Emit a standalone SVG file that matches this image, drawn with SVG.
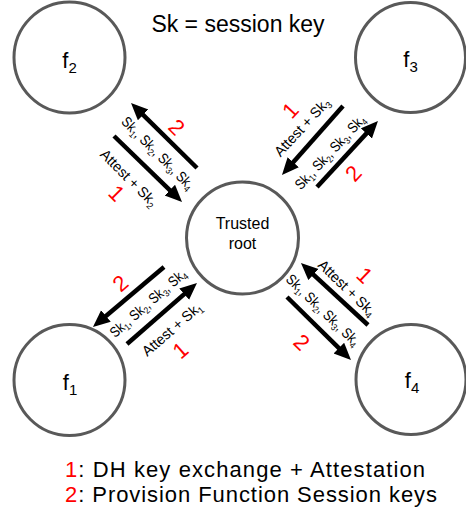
<svg xmlns="http://www.w3.org/2000/svg" width="466" height="520" viewBox="0 0 466 520">
<style>
text{font-family:"Liberation Sans",Arial,sans-serif;fill:#000}
.node{fill:#fff;stroke:#595959;stroke-width:3}
.nl{font-size:22px;text-anchor:middle}
.nsub{font-size:15px}
.rl{font-size:16px;text-anchor:middle}
.arr{stroke:#000;stroke-width:4.5;fill:none;marker-end:url(#ah)}
.lbl{font-size:14.5px;text-anchor:middle}
.sub{font-size:9.5px}
.num{font-size:22px;fill:#ff0000;text-anchor:middle}
.red{fill:#ff0000}
.title{font-size:23px;text-anchor:middle}
.leg{font-size:22px}
</style>
<defs>
<marker id="ah" markerUnits="userSpaceOnUse" markerWidth="18" markerHeight="16" refX="10" refY="7.5" orient="auto">
<path d="M0,0 L17,7.5 L0,15 z" fill="#000"/>
</marker>
</defs>
<rect width="466" height="520" fill="#fff"/>
<text class="title" x="238" y="31.5">Sk = session key</text>
<g id="node-f2"><circle class="node" cx="69.5" cy="57.5" r="55.5"/><text class="nl" x="69.5" y="68">f<tspan class="nsub" dy="5">2</tspan></text></g>
<g id="node-f3"><circle class="node" cx="410.5" cy="57.5" r="55"/><text class="nl" x="410.5" y="67">f<tspan class="nsub" dy="5">3</tspan></text></g>
<g id="node-f1"><circle class="node" cx="69.5" cy="380" r="55.5"/><text class="nl" x="70" y="390">f<tspan class="nsub" dy="5">1</tspan></text></g>
<g id="node-f4"><circle class="node" cx="411" cy="379.5" r="55"/><text class="nl" x="412" y="388">f<tspan class="nsub" dy="5">4</tspan></text></g>
<g id="node-root"><circle class="node" cx="242.5" cy="238" r="56"/><text class="rl" x="242.5" y="229">Trusted</text><text class="rl" x="242.5" y="249">root</text></g>
<g id="connectors">
<line class="arr" x1="197" y1="168" x2="136" y2="107.9"/>
<line class="arr" x1="114" y1="136" x2="177" y2="197.1"/>
<line class="arr" x1="343" y1="106" x2="286.6" y2="169.8"/>
<line class="arr" x1="317" y1="187" x2="373.2" y2="126.1"/>
<line class="arr" x1="164" y1="267" x2="98.3" y2="322.5"/>
<line class="arr" x1="127" y1="344" x2="191.7" y2="287.6"/>
<line class="arr" x1="368" y1="325" x2="306.1" y2="267.8"/>
<line class="arr" x1="287" y1="297" x2="346" y2="355.1"/>
</g>
<g id="labels">
<!-- upper-left -->
<text class="lbl" transform="translate(158,153) rotate(45)" y="5" textLength="96" lengthAdjust="spacingAndGlyphs">Sk<tspan class="sub" dy="3">1</tspan><tspan dy="-3">, Sk</tspan><tspan class="sub" dy="3">2</tspan><tspan dy="-3">, Sk</tspan><tspan class="sub" dy="3">3</tspan><tspan dy="-3">, Sk</tspan><tspan class="sub" dy="3">4</tspan></text>
<text class="lbl" transform="translate(129,178) rotate(45)" y="5" textLength="74" lengthAdjust="spacingAndGlyphs">Attest + Sk<tspan class="sub" dy="3">2</tspan></text>
<text class="num" transform="translate(177,127) rotate(45)" y="8">2</text>
<text class="num" transform="translate(117,193) rotate(45)" y="8">1</text>
<!-- upper-right -->
<text class="lbl" transform="translate(302,127) rotate(-47)" y="5" textLength="74" lengthAdjust="spacingAndGlyphs">Attest + Sk<tspan class="sub" dy="3">3</tspan></text>
<text class="lbl" transform="translate(330,152) rotate(-47)" y="5" textLength="96" lengthAdjust="spacingAndGlyphs">Sk<tspan class="sub" dy="3">1</tspan><tspan dy="-3">, Sk</tspan><tspan class="sub" dy="3">2</tspan><tspan dy="-3">, Sk</tspan><tspan class="sub" dy="3">3</tspan><tspan dy="-3">, Sk</tspan><tspan class="sub" dy="3">4</tspan></text>
<text class="num" transform="translate(290,110) rotate(-47)" y="8">1</text>
<text class="num" transform="translate(353,173) rotate(-47)" y="8">2</text>
<!-- lower-left -->
<text class="lbl" transform="translate(148,303) rotate(-41)" y="5" textLength="96" lengthAdjust="spacingAndGlyphs">Sk<tspan class="sub" dy="3">1</tspan><tspan dy="-3">, Sk</tspan><tspan class="sub" dy="3">2</tspan><tspan dy="-3">, Sk</tspan><tspan class="sub" dy="3">3</tspan><tspan dy="-3">, Sk</tspan><tspan class="sub" dy="3">4</tspan></text>
<text class="lbl" transform="translate(172,329) rotate(-41)" y="5" textLength="74" lengthAdjust="spacingAndGlyphs">Attest + Sk<tspan class="sub" dy="3">1</tspan></text>
<text class="num" transform="translate(120,283) rotate(-41)" y="8">2</text>
<text class="num" transform="translate(180,350) rotate(-41)" y="8">1</text>
<!-- lower-right -->
<text class="lbl" transform="translate(347,288) rotate(44)" y="5" textLength="74" lengthAdjust="spacingAndGlyphs">Attest + Sk<tspan class="sub" dy="3">4</tspan></text>
<text class="lbl" transform="translate(323,310) rotate(44)" y="5" textLength="96" lengthAdjust="spacingAndGlyphs">Sk<tspan class="sub" dy="3">1</tspan><tspan dy="-3">, Sk</tspan><tspan class="sub" dy="3">2</tspan><tspan dy="-3">, Sk</tspan><tspan class="sub" dy="3">3</tspan><tspan dy="-3">, Sk</tspan><tspan class="sub" dy="3">4</tspan></text>
<text class="num" transform="translate(365,275) rotate(44)" y="8">1</text>
<text class="num" transform="translate(302,342) rotate(44)" y="8">2</text>
</g>
<g id="legend">
<text class="leg" x="65" y="477" textLength="360" lengthAdjust="spacing"><tspan class="red">1</tspan>: DH key exchange + Attestation</text>
<text class="leg" x="65" y="502" textLength="372" lengthAdjust="spacing"><tspan class="red">2</tspan>: Provision Function Session keys</text>
</g>
</svg>
